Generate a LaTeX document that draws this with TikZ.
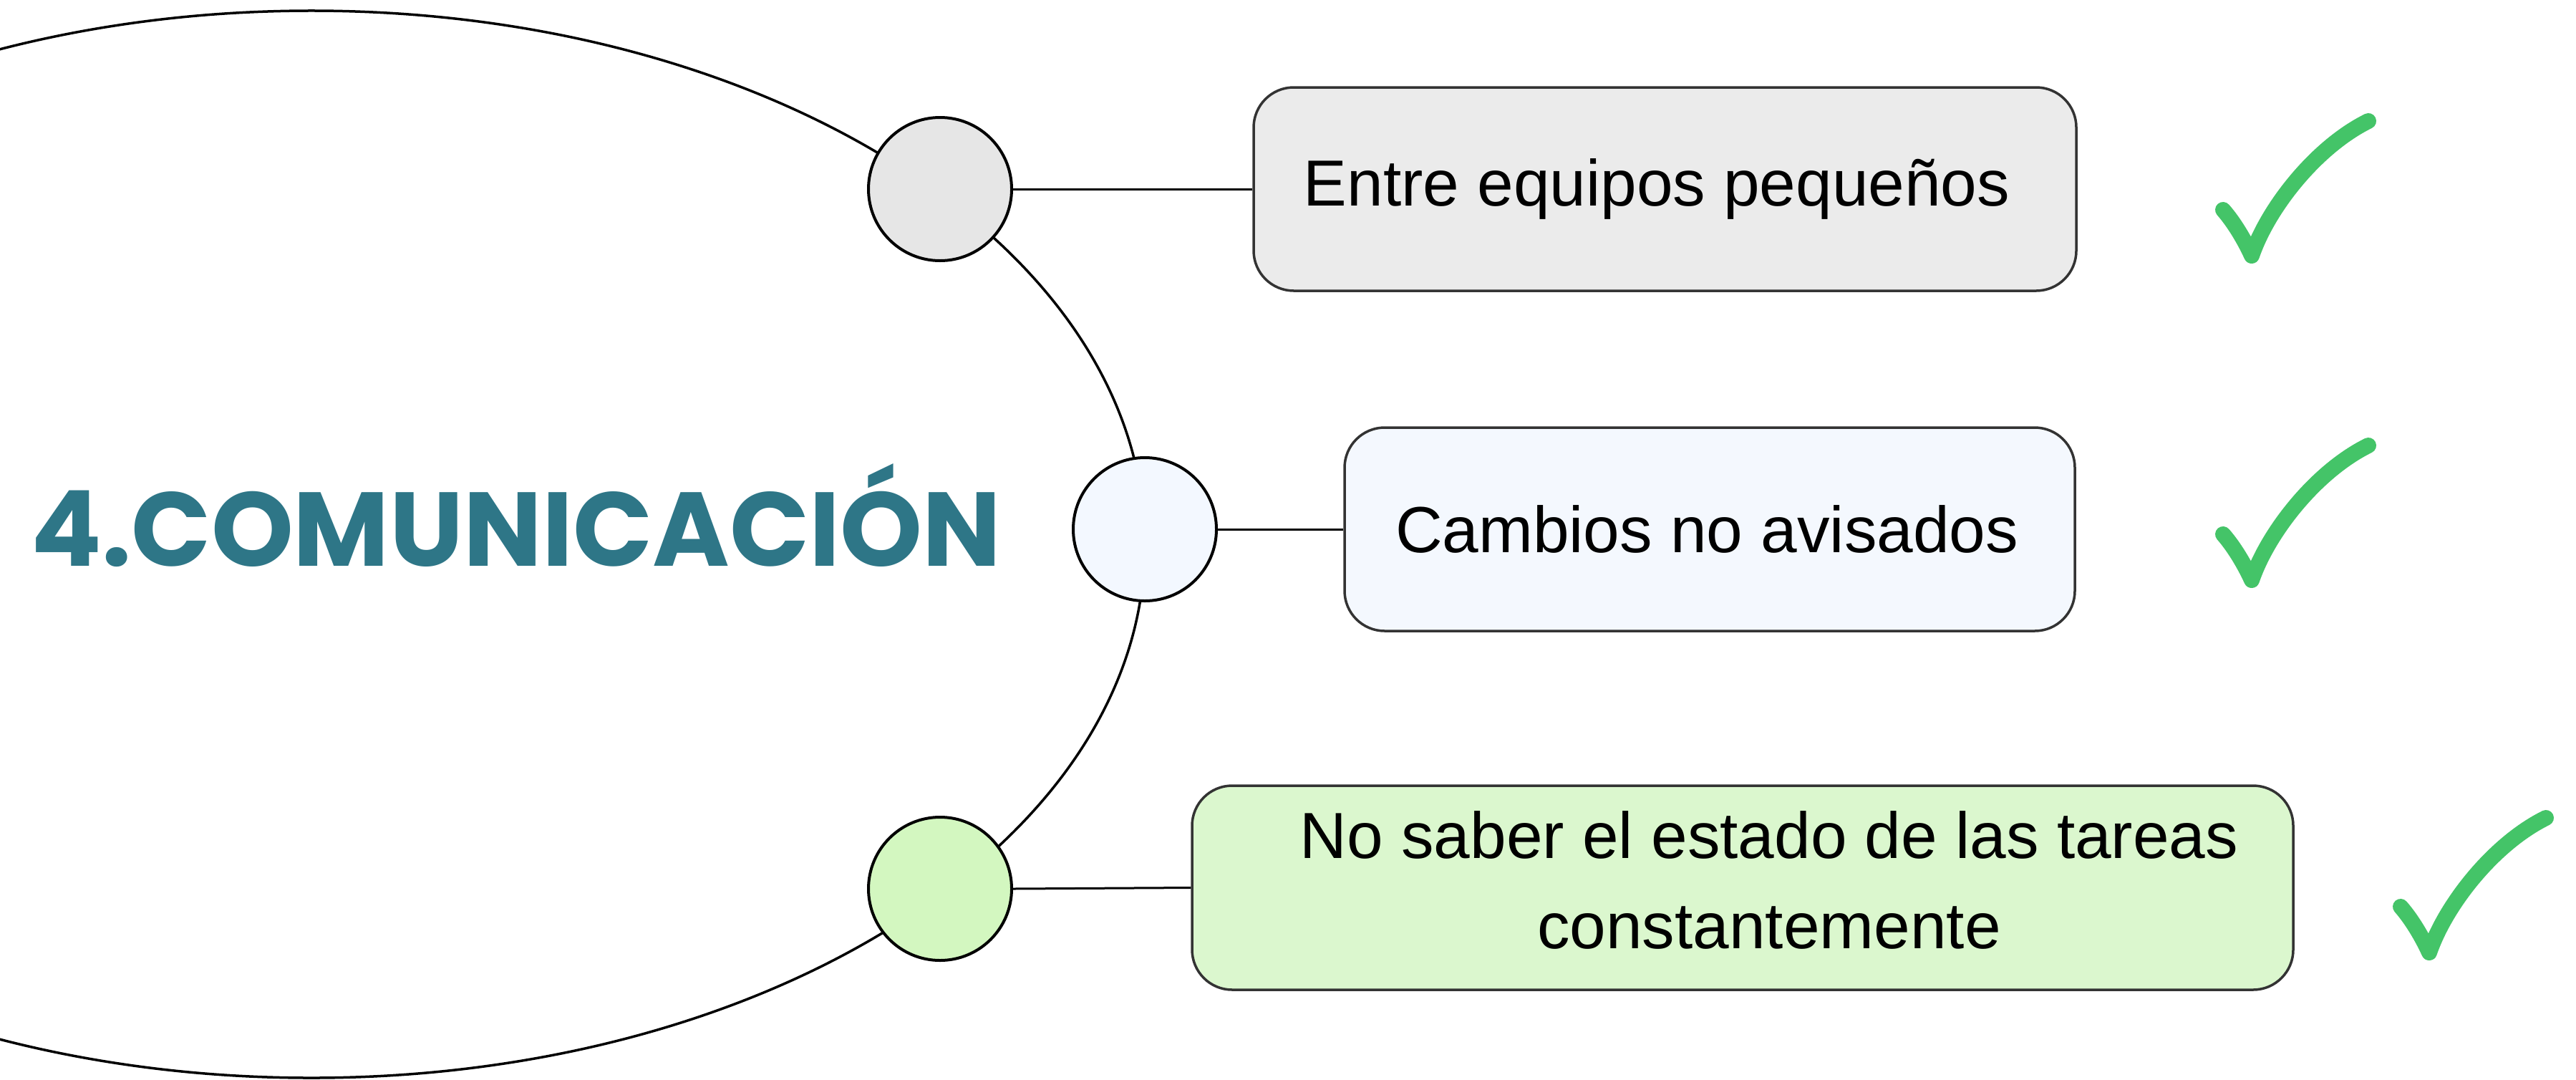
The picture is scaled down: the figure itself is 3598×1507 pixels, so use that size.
\documentclass[tikz,border=0pt]{standalone}
\usepackage{fontspec}
\setmainfont{Liberation Sans}
\newfontfamily\titlefont{Poppins}
\definecolor{titleblue}{HTML}{2E7687}
\definecolor{tickgreen}{HTML}{44C468}
\definecolor{greyfill}{HTML}{EBEBEB}
\definecolor{greycirc}{HTML}{E6E6E6}
\definecolor{bluefill}{HTML}{F4F8FE}
\definecolor{bluecirc}{HTML}{F3F8FF}
\definecolor{greenfill}{HTML}{DBF7CE}
\definecolor{greencirc}{HTML}{D3F7C0}
\definecolor{boxline}{HTML}{333333}
\begin{document}
\begin{tikzpicture}[x=0.2pt,y=-0.2pt,
  dot/.style={circle,draw=black,line width=0.8pt,minimum size=40pt,inner sep=0pt},
  card/.style={rectangle,rounded corners=11.2pt,draw=boxline,line width=0.7pt,inner sep=0pt,minimum height=56.8pt},
  label/.style={font=\fontsize{18.2pt}{25.2pt}\selectfont,align=center,inner sep=0pt},
  link/.style={draw=black,line width=0.6pt},
  tick/.pic={\draw[tickgreen,line width=4.4pt,line cap=round,line join=round]
     (-40,-64) .. controls (-25,-47) and (-10,-22) .. (0,0)
     .. controls (23,-67) and (90,-152) .. (163,-188);}
]
\useasboundingbox (0,0) rectangle (3598,1507);
\clip (0,0) rectangle (3598,1507);
\fill[white] (0,0) rectangle (3598,1507);
% big ellipse
\draw[line width=0.7pt] (435,760) ellipse [x radius=232.8pt, y radius=149pt];
% title
\node[text=titleblue,inner sep=0pt,anchor=base] (title) at (721,790)
  {\resizebox{271pt}{\height}{\titlefont\fontsize{29.3pt}{32pt}\selectfont\bfseries 4.COMUNICACIÓN}};
% circles
\node[dot,fill=greycirc] (c1) at (1313,264) {};
\node[dot,fill=bluecirc] (c2) at (1599,739) {};
\node[dot,fill=greencirc] (c3) at (1313,1241) {};
% boxes
\node[card,fill=greyfill,minimum width=229.8pt] (b1) at (2325.5,264) {};
\node[card,fill=bluefill,minimum width=204pt] (b2) at (2388,739) {};
\node[card,fill=greenfill,minimum width=307.6pt,minimum height=57pt] (b3) at (2434,1239.5) {};
% texts
\node[label] (t1) at (2314,264) {Entre equipos pequeños};
\node[label] (t2) at (2384,739) {Cambios no avisados};
\node[label] (t3) at (2471,1229) {No saber el estado de las tareas\\constantemente};
% connectors
\draw[link] (c1.east) -- (b1.west);
\draw[link] (c2.east) -- (b2.west);
\draw[link] (c3.east) -- (b3.west);
% ticks
\pic at (3145,357) {tick};
\pic at (3145,810) {tick};
\pic at (3393,1330) {tick};
\end{tikzpicture}
\end{document}
